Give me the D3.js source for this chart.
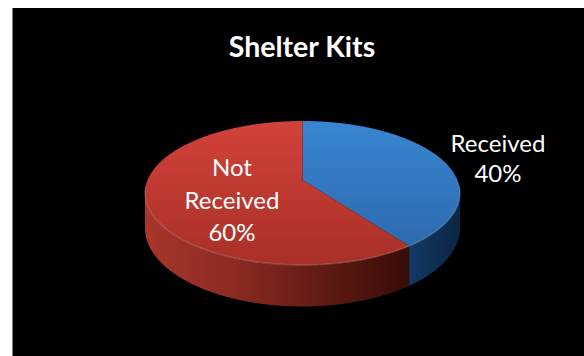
<!DOCTYPE html>
<html>
<head>
<meta charset="utf-8">
<script src="https://cdn.jsdelivr.net/npm/d3@7"></script>
<style>
  html, body { margin: 0; padding: 0; background: #ffffff; }
  svg { display: block; }
  text { font-family: Lato, "Open Sans", sans-serif; fill: #ffffff; }
</style>
</head>
<body>
<svg id="chart" width="584" height="356"></svg>
<script>
// Chart data
const title = "Shelter Kits";
const categories = ["Received", "Not Received"];
const values = [40, 60];
const labelLines = [["Received", "40%"], ["Not", "Received", "60%"]];

// Slice colours: top face (light -> dark) and side (light -> dark)
const topColors = [["#3886d2", "#2b66aa"], ["#d2423a", "#a93027"]];
const sideColors = [["#123a66", "#0b2545"], ["#a8362b", "#380c08"]];

const W = 584, H = 356;
const svg = d3.select("#chart");

// Chart area
svg.append("rect").attr("x", 12).attr("y", 8).attr("width", W - 12).attr("height", H - 8).attr("fill", "#000");
svg.append("line").attr("x1", 12.5).attr("x2", 12.5).attr("y1", 8).attr("y2", H).attr("stroke", "#7a7a7a").attr("stroke-width", 1);

// Title
svg.append("text").attr("x", 302).attr("y", 57).attr("text-anchor", "middle")
  .attr("font-weight", 700).attr("font-size", 28.5).text(title);

// Tilted pie with perspective: circle in a horizontal plane, projected to screen
const cx = 302.5, cy = 180;   // projected centre of the pie
const A = 154.9, B = 69.65;   // horizontal / vertical radii before perspective
const p = 0.1806;             // perspective strength
const depth = 34;             // thickness of the pie

function proj(theta, r, z) {
  const s = Math.sin(theta) * r, c = Math.cos(theta) * r;
  const w = 1 + p * c;
  return [cx + A * s / w, cy - B * c / w + z * depth / w];
}

const pie = d3.pie().sort(null).value(d => d)(values);
const step = Math.PI / 360;

function arcPoints(a0, a1, z) {
  const pts = [];
  const n = Math.max(2, Math.ceil((a1 - a0) / step));
  for (let i = 0; i <= n; i++) pts.push(proj(a0 + (a1 - a0) * i / n, 1, z));
  return pts;
}

const defs = svg.append("defs");
pie.forEach((d, i) => {
  const gt = defs.append("linearGradient").attr("id", "top" + i)
    .attr("gradientUnits", "userSpaceOnUse").attr("x1", 0).attr("y1", 121).attr("x2", 0).attr("y2", 265);
  gt.append("stop").attr("offset", 0).attr("stop-color", topColors[i][0]);
  gt.append("stop").attr("offset", 1).attr("stop-color", topColors[i][1]);
});
// side gradients run left to right across the pie
const gs1 = defs.append("linearGradient").attr("id", "side1")
  .attr("gradientUnits", "userSpaceOnUse").attr("x1", 145).attr("y1", 0).attr("x2", 407).attr("y2", 0);
gs1.append("stop").attr("offset", 0).attr("stop-color", sideColors[1][0]);
gs1.append("stop").attr("offset", 0.35).attr("stop-color", "#8a2a21");
gs1.append("stop").attr("offset", 1).attr("stop-color", sideColors[1][1]);
const gs0 = defs.append("linearGradient").attr("id", "side0")
  .attr("gradientUnits", "userSpaceOnUse").attr("x1", 407).attr("y1", 0).attr("x2", 460).attr("y2", 0);
gs0.append("stop").attr("offset", 0).attr("stop-color", sideColors[0][0]);
gs0.append("stop").attr("offset", 1).attr("stop-color", sideColors[0][1]);

const line = d3.line();

// Visible front wall lies between the two silhouette angles
const front0 = Math.PI - Math.acos(p), front1 = Math.PI + Math.acos(p);

const sides = svg.append("g");
pie.forEach((d, i) => {
  const a0 = Math.max(d.startAngle, front0), a1 = Math.min(d.endAngle, front1);
  if (a1 <= a0) return;
  const topEdge = arcPoints(a0, a1, 0);
  const botEdge = arcPoints(a0, a1, 1).reverse();
  sides.append("path").attr("d", line(topEdge.concat(botEdge)) + "Z").attr("fill", `url(#side${i})`);
});

const tops = svg.append("g");
pie.forEach((d, i) => {
  const pts = [proj(0, 0, 0)].concat(arcPoints(d.startAngle, d.endAngle, 0));
  tops.append("path").attr("d", line(pts) + "Z").attr("fill", `url(#top${i})`);
});

// soft rim highlight along the front edge of the top face
svg.append("path").attr("d", line(arcPoints(front0 - 0.1, front1 + 0.1, 0)))
  .attr("fill", "none").attr("stroke", "rgba(255,255,255,0.18)").attr("stroke-width", 1.5);

// Data labels
const labelPos = [[498, 152, 30], [232, 176, 32.5]];
labelLines.forEach((lines, i) => {
  const t = svg.append("text").attr("text-anchor", "middle").attr("font-size", 24);
  lines.forEach((s, j) => {
    t.append("tspan").attr("x", labelPos[i][0]).attr("y", labelPos[i][1] + j * labelPos[i][2]).text(s);
  });
});
</script>
</body>
</html>
